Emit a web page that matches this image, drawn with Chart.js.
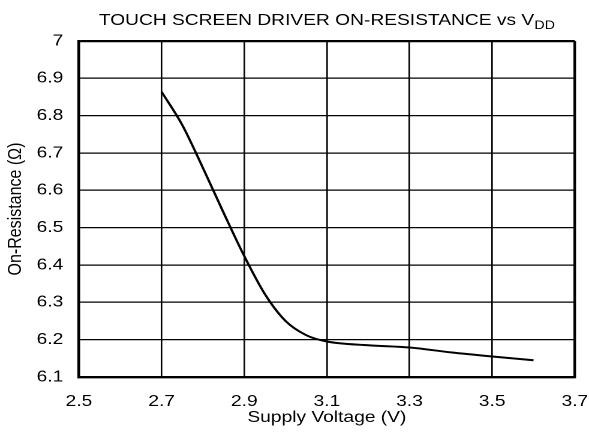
<!DOCTYPE html>
<html><head><meta charset="utf-8">
<script src="https://cdn.jsdelivr.net/npm/chart.js@4"></script>
<style>
html,body{margin:0;padding:0;background:#fff;overflow:hidden;}
#wrap{position:absolute;left:0;top:0;width:491px;height:443px;transform:scaleX(1.19959);transform-origin:0 0;}
canvas{display:block;}
</style></head><body>
<div id="wrap"><canvas id="c" width="491" height="443"></canvas></div>
<script>
const chartTitle = 'TOUCH SCREEN DRIVER ON-RESISTANCE vs V';
const chartTitleSub = 'DD';
const xAxisTitle = 'Supply Voltage (V)';
const yAxisTitle = 'On-Resistance (\u03A9)';
const supplyVoltage = [2.70, 2.75, 2.80, 2.85, 2.90, 2.95, 3.00, 3.05, 3.10, 3.20, 3.30, 3.40, 3.50, 3.60];
const onResistance  = [6.864, 6.775, 6.660, 6.540, 6.424, 6.322, 6.250, 6.212, 6.195, 6.185, 6.179, 6.166, 6.155, 6.145];
const xTicks = [2.5, 2.7, 2.9, 3.1, 3.3, 3.5, 3.7];
const xTickLabels = ['2.5', '2.7', '2.9', '3.1', '3.3', '3.5', '3.7'];
const yTicks = [6.1, 6.2, 6.3, 6.4, 6.5, 6.6, 6.7, 6.8, 6.9, 7];
const yTickLabels = ['6.1', '6.2', '6.3', '6.4', '6.5', '6.6', '6.7', '6.8', '6.9', '7'];

const FONT = "'Liberation Sans', Arial, sans-serif";
Chart.defaults.font.family = FONT;
Chart.defaults.color = '#000';

const titlePlugin = {
  id: 'subTitle',
  afterDraw(chart) {
    const ctx = chart.ctx, a = chart.chartArea;
    ctx.save();
    ctx.fillStyle = '#000';
    ctx.textBaseline = 'alphabetic';
    ctx.textAlign = 'left';
    ctx.font = '16px ' + FONT;
    const w1 = ctx.measureText(chartTitle).width;
    ctx.font = '12px ' + FONT;
    const w2 = ctx.measureText(chartTitleSub).width;
    const cx = (a.left + a.right) / 2;
    const x0 = cx - (w1 + w2) / 2;
    ctx.font = '16px ' + FONT;
    ctx.fillText(chartTitle, x0, 25);
    ctx.font = '12px ' + FONT;
    ctx.fillText(chartTitleSub, x0 + w1, 29);
    ctx.restore();
  }
};

const edgeWidth = (n) => (c) => (c.index === 0 || c.index === n - 1) ? 2.2 : 1.3;

new Chart(document.getElementById('c'), {
  type: 'line',
  data: {
    datasets: [{
      data: supplyVoltage.map((v, i) => ({x: v, y: onResistance[i]})),
      borderColor: '#000',
      borderWidth: 2,
      pointRadius: 0,
      fill: false,
      cubicInterpolationMode: 'monotone'
    }]
  },
  options: {
    responsive: false,
    animation: false,
    devicePixelRatio: 2,
    layout: {padding: {left: 5, right: 11.8, top: 41, bottom: 17.5}},
    plugins: {legend: {display: false}, title: {display: false}, tooltip: {enabled: false}},
    scales: {
      x: {
        type: 'linear', min: 2.5, max: 3.7,
        afterBuildTicks: (s) => { s.ticks = xTicks.map(v => ({value: v})); },
        afterFit: (s) => { s.height = 48.5; s.paddingLeft = 0; s.paddingRight = 0; },
        ticks: {padding: 16.5, font: {size: 16, lineHeight: 1}, maxRotation: 0, autoSkip: false,
          callback: (v) => xTickLabels[xTicks.indexOf(v)]},
        grid: {color: '#000', lineWidth: edgeWidth(xTicks.length), drawTicks: false},
        border: {color: '#000', width: 2.2},
        title: {display: true, text: xAxisTitle, font: {size: 16, lineHeight: 1}, padding: {top: 0, bottom: 0}}
      },
      y: {
        type: 'linear', min: 6.1, max: 7,
        afterBuildTicks: (s) => { s.ticks = yTicks.map(v => ({value: v})); },
        afterFit: (s) => { s.width = 60.8; s.paddingTop = 0; s.paddingBottom = 0; },
        ticks: {padding: 13, font: {size: 16, lineHeight: 1}, autoSkip: false,
          callback: (v) => yTickLabels[yTicks.indexOf(v)]},
        grid: {color: '#000', lineWidth: edgeWidth(yTicks.length), drawTicks: false},
        border: {color: '#000', width: 2.2},
        title: {display: true, text: yAxisTitle, font: {size: 16, lineHeight: 1}, padding: {top: 0, bottom: 0}}
      }
    }
  },
  plugins: [titlePlugin]
});
</script>
</body></html>
